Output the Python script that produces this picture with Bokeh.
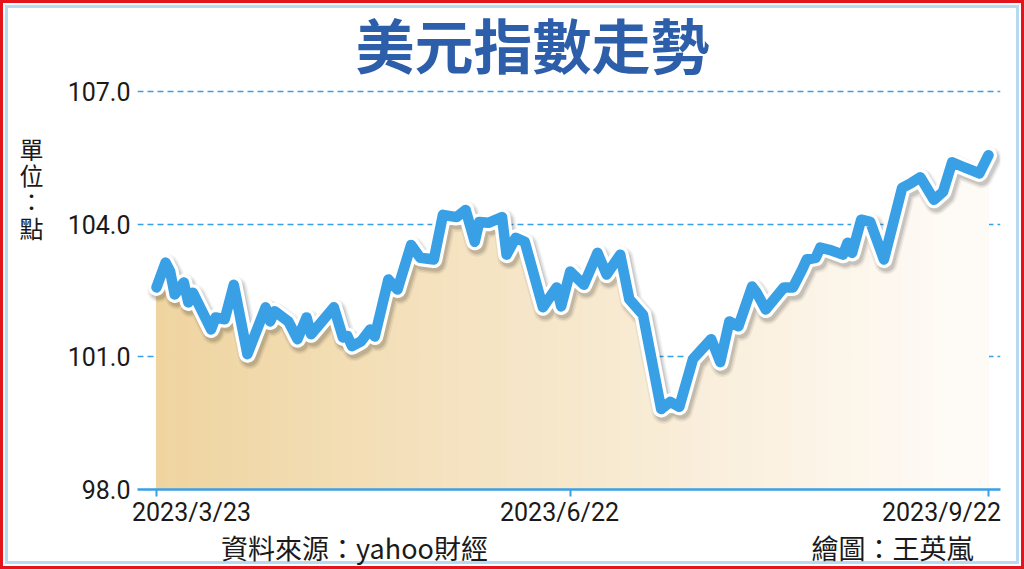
import numpy as np
import pandas as pd
from bokeh.plotting import figure
from bokeh.models import (Range1d, FixedTicker, CustomJSTickFormatter, LinearAxis,
                          ColumnDataSource, NumeralTickFormatter)
from bokeh.embed import file_html
from bokeh.resources import INLINE

# ---------------- data ----------------
dates = ["2023-03-23", "2023-03-25", "2023-03-26", "2023-03-27", "2023-03-29", "2023-03-30",
         "2023-03-31", "2023-04-04", "2023-04-05", "2023-04-07", "2023-04-09", "2023-04-12",
         "2023-04-16", "2023-04-17", "2023-04-18", "2023-04-21", "2023-04-23", "2023-04-25",
         "2023-04-26", "2023-05-01", "2023-05-03", "2023-05-04", "2023-05-05", "2023-05-07",
         "2023-05-09", "2023-05-10", "2023-05-13", "2023-05-15", "2023-05-18", "2023-05-20",
         "2023-05-23", "2023-05-25", "2023-05-28", "2023-05-30", "2023-06-01", "2023-06-02",
         "2023-06-04", "2023-06-07", "2023-06-08", "2023-06-10", "2023-06-12", "2023-06-16",
         "2023-06-19", "2023-06-20", "2023-06-22", "2023-06-25", "2023-06-28", "2023-06-30",
         "2023-07-03", "2023-07-05", "2023-07-08", "2023-07-12", "2023-07-14", "2023-07-16",
         "2023-07-19", "2023-07-23", "2023-07-25", "2023-07-27", "2023-07-29", "2023-08-01",
         "2023-08-02", "2023-08-04", "2023-08-08", "2023-08-10", "2023-08-12", "2023-08-13",
         "2023-08-15", "2023-08-16", "2023-08-18", "2023-08-21", "2023-08-22", "2023-08-23",
         "2023-08-25", "2023-08-27", "2023-08-30", "2023-09-03", "2023-09-05", "2023-09-07",
         "2023-09-10", "2023-09-12", "2023-09-14", "2023-09-17", "2023-09-20", "2023-09-22"]

values = [102.57, 103.13, 102.93, 102.41, 102.68, 102.23,
          102.45, 101.62, 101.89, 101.85, 102.63, 101.06,
          102.12, 101.80, 102.03, 101.80, 101.40, 101.89,
          101.51, 102.12, 101.44, 101.47, 101.24, 101.35,
          101.62, 101.46, 102.75, 102.52, 103.53, 103.24,
          103.20, 104.21, 104.16, 104.32, 103.60, 104.05,
          104.03, 104.16, 103.31, 103.69, 103.60, 102.12,
          102.57, 102.14, 102.93, 102.63, 103.35, 102.86,
          103.31, 102.30, 101.95, 99.82, 99.98, 99.87,
          100.95, 101.40, 100.88, 101.80, 101.69, 102.59,
          102.45, 102.07, 102.57, 102.57, 102.97, 103.20,
          103.24, 103.47, 103.42, 103.31, 103.58, 103.35,
          104.10, 104.05, 103.20, 104.82, 104.93, 105.06,
          104.55, 104.73, 105.40, 105.27, 105.15, 105.56]

tick_dates = ["2023-03-23", "2023-06-22", "2023-09-22"]
tick_labels = ["2023/3/23", "2023/6/22", "2023/9/22"]
y_ticks = [98.0, 101.0, 104.0, 107.0]

title_text = "美元指數走勢"
unit_chars = ["單", "位", "：", "點"]
footer_texts = ["資料來源：yahoo財經", "繪圖：王英嵐"]

# ---------------- layout / styling (pixel positions of texts) ----------------
BLUE = "#3aa0e6"
TEXT = "#1a1a1a"
DAY = 86400000.0
FRAME_L, FRAME_R, FRAME_T, FRAME_B = 137, 1000, 84, 491
date_label_px = [191, 559, 941]
unit_label_px = [148, 174, 201, 228]
footer_px = [354, 892]

xs = (pd.to_datetime(dates).astype("int64") // 10**6).astype(float).to_numpy()
ys = np.array(values, dtype=float)
tick_ms = [float(v) for v in (pd.to_datetime(tick_dates).astype("int64") // 10**6)]
t0 = xs[0]

p = figure(width=1024, height=569, x_axis_type="datetime",
           x_range=Range1d(t0 - 4.18 * DAY, t0 + 185.64 * DAY),
           y_range=Range1d(98.0, 107.1575),
           title=title_text,
           output_backend="svg", toolbar_location=None,
           min_border_left=FRAME_L, min_border_right=1024 - FRAME_R,
           min_border_top=FRAME_T, min_border_bottom=569 - FRAME_B,
           background_fill_color="white", border_fill_color=None,
           outline_line_color=None,
           styles={"outline": "3px solid #e3141b", "outline-offset": "-3px",
                   "box-shadow": "inset 0 0 0 5px #ffffff, inset 0 0 0 8px #b9d9f3",
                   "background-color": "white"})

p.extra_x_ranges = {"px": Range1d(FRAME_L, FRAME_R)}
p.extra_y_ranges = {"pxy": Range1d(FRAME_B, FRAME_T)}

# title
p.title.align = "left"
p.title.offset = 218
p.title.text_font = "Noto Sans CJK TC"
p.title.text_font_style = "bold"
p.title.text_font_size = "59px"
p.title.text_color = "#2d5eaa"
p.title.standoff = -3

# grid
p.xgrid.grid_line_color = None
p.ygrid.ticker = FixedTicker(ticks=[t for t in y_ticks if t > y_ticks[0]])
p.ygrid.grid_line_color = BLUE
p.ygrid.grid_line_dash = "6 4"
p.ygrid.grid_line_width = 1.5

# y axis
p.yaxis.ticker = FixedTicker(ticks=y_ticks)
p.yaxis.formatter = NumeralTickFormatter(format="0.0")
p.yaxis.axis_line_color = None
p.yaxis.major_tick_line_color = None
p.yaxis.minor_tick_line_color = None
p.yaxis.major_tick_out = 0
p.yaxis.major_tick_in = 0
p.yaxis.major_label_standoff = 7
p.yaxis.major_label_text_font = "Roboto"
p.yaxis.major_label_text_font_size = "25px"
p.yaxis.major_label_text_color = TEXT

# unit label "單位：點" as a stacked outer axis
unit_axis = LinearAxis(y_range_name="pxy", ticker=FixedTicker(ticks=unit_label_px),
                       major_label_overrides={v: c for v, c in zip(unit_label_px, unit_chars)},
                       axis_line_color=None, major_tick_line_color=None,
                       minor_tick_line_color=None, major_tick_out=0, major_tick_in=0,
                       major_label_standoff=21, major_label_text_font="Noto Sans CJK TC",
                       major_label_text_font_size="24px", major_label_text_color=TEXT)
p.add_layout(unit_axis, "left")

# x axis (line and tick marks)
p.xaxis.ticker = FixedTicker(ticks=tick_ms)
p.xaxis.formatter = CustomJSTickFormatter(code="return ''")
p.xaxis.major_label_text_font_size = "1px"
p.xaxis.major_label_standoff = 0
p.xaxis.axis_line_color = BLUE
p.xaxis.axis_line_width = 2.5
p.xaxis.major_tick_line_color = BLUE
p.xaxis.major_tick_line_width = 2
p.xaxis.major_tick_out = 7
p.xaxis.major_tick_in = 0
p.xaxis.minor_tick_line_color = None

# date labels
date_axis = LinearAxis(x_range_name="px", ticker=FixedTicker(ticks=date_label_px),
                       major_label_overrides={v: t for v, t in zip(date_label_px, tick_labels)},
                       axis_line_color=None, major_tick_line_color=None,
                       minor_tick_line_color=None, major_tick_out=0, major_tick_in=0,
                       major_label_standoff=1, major_label_text_font="Roboto",
                       major_label_text_font_size="25px", major_label_text_color=TEXT)
p.add_layout(date_axis, "below")

# footer
footer_axis = LinearAxis(x_range_name="px", ticker=FixedTicker(ticks=footer_px),
                         major_label_overrides={v: t for v, t in zip(footer_px, footer_texts)},
                         axis_line_color=None, major_tick_line_color=None,
                         minor_tick_line_color=None, major_tick_out=0, major_tick_in=0,
                         major_label_standoff=-2, major_label_text_font="Noto Sans CJK TC",
                         major_label_text_font_size="27px", major_label_text_color=TEXT)
p.add_layout(footer_axis, "below")

# gradient area: one quad per segment, colour fading from tan to white
c0 = np.array([239, 212, 160])
c1 = np.array([254, 250, 245])
span = xs[-1] - xs[0]
pxs, pys, cols = [], [], []
for i in range(len(xs) - 1):
    pxs.append([xs[i], xs[i], xs[i + 1], xs[i + 1]])
    pys.append([98.0, ys[i], ys[i + 1], 98.0])
    t = min(((xs[i] + xs[i + 1]) / 2 - xs[0]) / span / 0.95, 1.0)
    c = (c0 + (c1 - c0) * t).round().astype(int)
    cols.append("#%02x%02x%02x" % tuple(c))
p.patches(pxs, pys, fill_color=cols, line_color=cols, line_width=1)

# line with shadow and white outline
src = ColumnDataSource(dict(x=xs, y=ys, xs_=xs + 0.5 * DAY, ys_=ys - 0.08))
for w, a in [(23, 0.05), (20, 0.07), (17, 0.10)]:
    p.line("xs_", "ys_", source=src, line_color="black", line_alpha=a, line_width=w,
           line_join="round", line_cap="round")
p.line("x", "y", source=src, line_color="white", line_width=17, line_join="round", line_cap="round")
p.line("x", "y", source=src, line_color=BLUE, line_width=10.5, line_join="round", line_cap="round")

open("out.html", "w").write(file_html(p, INLINE))
